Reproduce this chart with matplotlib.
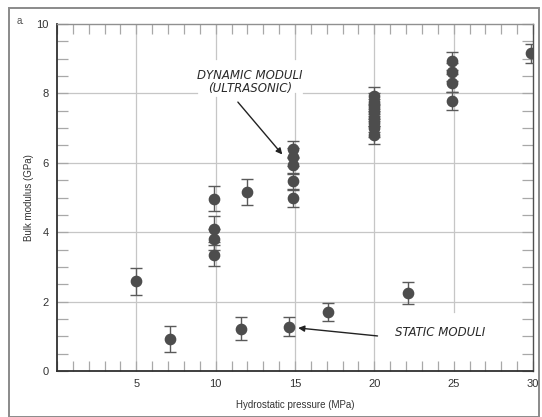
import matplotlib
matplotlib.use("Agg")
import matplotlib.pyplot as plt
from matplotlib.patches import Rectangle
from matplotlib.ticker import MultipleLocator

# ---- data ----
static_x = [5.0, 7.1, 11.6, 14.6, 17.1, 22.1]
static_y = [2.58, 0.93, 1.22, 1.28, 1.70, 2.25]
static_err = [0.38, 0.38, 0.33, 0.27, 0.27, 0.31]

dynamic_x = [9.9, 9.9, 9.9, 9.9, 11.95,
             14.85, 14.85, 14.85, 14.85, 14.85,
             20.0, 20.0, 20.0, 20.0, 20.0, 20.0, 20.0, 20.0,
             24.9, 24.9, 24.9, 24.9, 29.85]
dynamic_y = [4.97, 4.09, 3.79, 3.34, 5.16,
             6.39, 6.17, 5.93, 5.47, 4.99,
             7.93, 7.75, 7.60, 7.45, 7.30, 7.15, 7.00, 6.80,
             8.94, 8.63, 8.31, 7.78, 9.15]
dynamic_err = [0.37, 0.38, 0.30, 0.30, 0.37,
               0.25, 0.25, 0.25, 0.25, 0.25,
               0.25, 0.25, 0.25, 0.25, 0.25, 0.25, 0.25, 0.25,
               0.26, 0.26, 0.26, 0.26, 0.26]

x_ticks = [5, 10, 15, 20, 25, 30]
y_ticks = [0, 2, 4, 6, 8, 10]

FONT = "Liberation Sans"
plt.rcParams['font.family'] = [FONT, 'DejaVu Sans']

fig = plt.figure(figsize=(5.42, 4.17), dpi=100)
ax = fig.add_axes([57/542, 46/417, 476/542, 347/417])
ax.set_xlim(0, 30)
ax.set_ylim(0, 10)

# figure frame
fig.patches.append(Rectangle((9/542, 0.5/417), 530/542, 408.5/417, transform=fig.transFigure,
                             fill=False, edgecolor='#8a8a8a', linewidth=1.4))

gc = '#c6c6c6'
glw = 0.9
# gridlines (segments, interrupted by the annotation labels)
ax.plot([5, 5], [0, 10], color=gc, lw=glw, zorder=1)
ax.plot([10, 10], [0, 7.9], color=gc, lw=glw, zorder=1)
ax.plot([10, 10], [9.0, 10], color=gc, lw=glw, zorder=1)
ax.plot([15, 15], [0, 8.0], color=gc, lw=glw, zorder=1)
ax.plot([15, 15], [9.0, 10], color=gc, lw=glw, zorder=1)
ax.plot([20, 20], [0, 10], color=gc, lw=glw, zorder=1)
ax.plot([25, 25], [1.71, 10], color=gc, lw=glw, zorder=1)
for yv in [2, 4, 6]:
    ax.plot([0, 30], [yv, yv], color=gc, lw=glw, zorder=1)
ax.plot([0, 8.8], [8, 8], color=gc, lw=glw, zorder=1)
ax.plot([15.5, 30], [8, 8], color=gc, lw=glw, zorder=1)

mc = '#4d4d4d'
ax.errorbar(static_x, static_y, yerr=static_err, fmt='o', color=mc, ms=7.4,
            ecolor='#5a5a5a', elinewidth=1.0, capsize=4.2, capthick=1.0, zorder=3)
ax.errorbar(dynamic_x, dynamic_y, yerr=dynamic_err, fmt='o', color=mc, ms=7.4,
            ecolor='#5a5a5a', elinewidth=1.0, capsize=4.2, capthick=1.0, zorder=3)

# ticks
ax.set_xticks(x_ticks)
ax.set_xticklabels([str(t) for t in x_ticks])
ax.set_yticks(y_ticks)
ax.set_yticklabels([str(t) for t in y_ticks])
ax.xaxis.set_minor_locator(MultipleLocator(1))
ax.yaxis.set_minor_locator(MultipleLocator(0.5))
ax.tick_params(axis='both', which='both', direction='in', top=True, right=True,
               color='#a8a8a8', width=0.9)
ax.tick_params(axis='x', which='both', length=7)
ax.tick_params(axis='y', which='both', length=8)
ax.tick_params(axis='x', which='major', labelsize=8, pad=6, labelcolor='#333333')
ax.tick_params(axis='y', which='major', labelsize=8, pad=6, labelcolor='#333333')

for s in ['left', 'bottom']:
    ax.spines[s].set_color('#303030')
    ax.spines[s].set_linewidth(1.3)
ax.spines['right'].set_color('#505050')
ax.spines['right'].set_linewidth(1.0)
ax.spines['top'].set_color('#909090')
ax.spines['top'].set_linewidth(1.0)

ax.set_xlabel('Hydrostatic pressure (MPa)', fontsize=7, color='#333333', labelpad=8)
ax.set_ylabel('Bulk modulus (GPa)', fontsize=7, color='#333333', labelpad=2)

fig.text(17/542, 1 - 21/417, 'a.', fontsize=7, color='#555555', va='center', ha='left')

# annotations
ann_font = ['DejaVu Sans']
ax.text(12.15, 8.34, 'DYNAMIC MODULI\n(ULTRASONIC)', fontsize=8.5, style='italic',
        family=ann_font, ha='center', va='center', color='#2a2a2a', linespacing=1.0)
ax.annotate('', xy=(14.2, 6.24), xytext=(11.4, 7.75),
            arrowprops=dict(arrowstyle='-|>', color='#222222', lw=1.0,
                            mutation_scale=9, shrinkA=0, shrinkB=0))
ax.text(24.13, 1.1, 'STATIC MODULI', fontsize=8.5, style='italic', family=ann_font,
        ha='center', va='center', color='#2a2a2a')
ax.annotate('', xy=(15.2, 1.24), xytext=(20.2, 1.01),
            arrowprops=dict(arrowstyle='-|>', color='#222222', lw=1.0,
                            mutation_scale=9, shrinkA=0, shrinkB=0))

fig.savefig('out.png', dpi=100)
